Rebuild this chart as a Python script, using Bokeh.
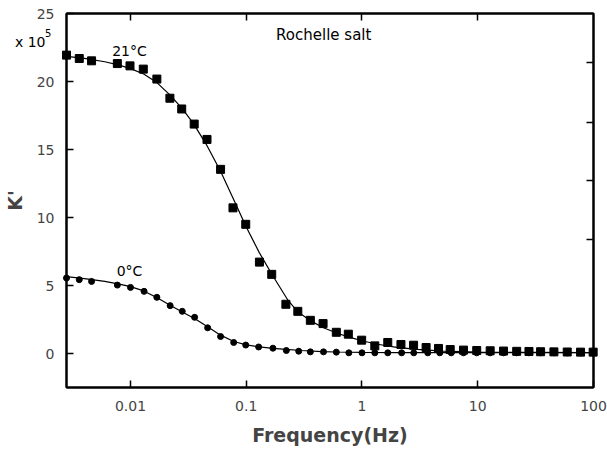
from bokeh.plotting import figure
from bokeh.models import Range1d, FixedTicker, LogAxis, LinearAxis, Label, CustomJSTickFormatter
from bokeh.core.properties import value
from bokeh.embed import file_html
from bokeh.resources import INLINE

# ---- data ----
sq_x = [0.0028, 0.00361, 0.00461, 0.0077, 0.0099, 0.0129, 0.0169, 0.0219, 0.0277, 0.0355,
        0.0458, 0.060, 0.0768, 0.099, 0.130, 0.166, 0.22, 0.279, 0.358, 0.461,
        0.60, 0.762, 0.993, 1.29, 1.67, 2.17, 2.79, 3.58, 4.58, 5.78,
        7.53, 9.80, 12.8, 16.7, 21.7, 27.7, 34.9, 45.5, 59.3, 77.3, 99.3]
sq_y = [21.94, 21.69, 21.52, 21.32, 21.15, 20.91, 20.18, 18.77, 17.98, 16.87,
        15.74, 13.54, 10.71, 9.50, 6.72, 5.82, 3.62, 3.10, 2.44, 2.20,
        1.56, 1.42, 0.98, 0.56, 0.81, 0.66, 0.61, 0.44, 0.37, 0.29,
        0.25, 0.22, 0.20, 0.18, 0.16, 0.15, 0.13, 0.12, 0.11, 0.10, 0.10]

ci_x = [0.0028, 0.00361, 0.00461, 0.0077, 0.010, 0.0131, 0.0169, 0.022, 0.028, 0.0358,
        0.0464, 0.060, 0.0779, 0.099, 0.128, 0.170, 0.222, 0.284, 0.358, 0.465,
        0.60, 0.77, 1.0, 1.29, 1.67, 2.2, 2.8, 3.7, 4.7, 5.9,
        7.53, 9.80, 12.8, 16.7, 21.7, 27.7, 34.9, 45.5, 59.3, 77.3, 99.3]
ci_y = [5.55, 5.43, 5.30, 5.03, 4.86, 4.57, 4.13, 3.52, 3.10, 2.66,
        1.89, 1.25, 0.81, 0.62, 0.48, 0.39, 0.22, 0.17, 0.12, 0.12,
        0.10, 0.05, 0.05, 0.05, 0.05, 0.05, 0.05, 0.05, 0.05, 0.05,
        0.05, 0.05, 0.05, 0.05, 0.05, 0.05, 0.05, 0.05, 0.05, 0.05, 0.05]

fit21_x = [0.0028, 0.004, 0.006, 0.008, 0.01, 0.013, 0.017, 0.022, 0.028, 0.035,
           0.045, 0.06, 0.08, 0.1, 0.13, 0.17, 0.23, 0.28, 0.36, 0.47,
           0.62, 0.8, 1.04, 1.36, 2.0, 3.0, 5.0, 10, 30, 100]
fit21_y = [21.85, 21.7, 21.45, 21.2, 20.95, 20.55, 19.9, 19.0, 18.0, 16.9,
           15.4, 13.4, 11.1, 9.3, 7.4, 5.7, 3.9, 3.05, 2.4, 1.88,
           1.47, 1.17, 0.9, 0.68, 0.45, 0.3, 0.18, 0.11, 0.08, 0.07]

fit0_x = [0.0028, 0.004, 0.006, 0.008, 0.01, 0.013, 0.017, 0.022, 0.028, 0.036,
          0.046, 0.06, 0.078, 0.1, 0.13, 0.17, 0.22, 0.3, 0.45, 0.6,
          1.0, 2.0, 5.0, 10, 30, 100]
fit0_y = [5.65, 5.5, 5.3, 5.1, 4.92, 4.6, 4.1, 3.55, 3.05, 2.55,
          1.98, 1.35, 0.88, 0.64, 0.49, 0.38, 0.3, 0.22, 0.14, 0.11,
          0.08, 0.06, 0.06, 0.06, 0.06, 0.06]

x_ticks = [0.01, 0.1, 1, 10, 100]
y_ticks = [0, 5, 10, 15, 20, 25]
top_ticks = [0.01, 0.1, 1, 10]
right_ticks = [8.4, 12.7, 17.0, 21.4]

FONT = "DejaVu Sans"
W, H = 607, 449

p = figure(width=W, height=H, x_axis_type="log",
           x_range=Range1d(0.0028, 100), y_range=Range1d(-2.5, 25),
           output_backend="svg", toolbar_location=None,
           min_border_left=65, min_border_right=14, min_border_top=13, min_border_bottom=62)
p.grid.visible = False
p.outline_line_color = "black"
p.outline_line_width = 2
p.background_fill_color = "white"
p.border_fill_color = "white"

xa = p.xaxis[0]
xa.ticker = FixedTicker(ticks=x_ticks)
xa.formatter = CustomJSTickFormatter(code="return tick.toString();")
xa.minor_tick_line_color = None
xa.major_tick_in = 7
xa.major_tick_out = 0
xa.major_tick_line_width = 1.5
xa.axis_line_width = 2
xa.major_label_text_font = FONT
xa.major_label_text_font_size = "14px"
xa.major_label_standoff = 13
xa.axis_label = "Frequency(Hz)"
xa.axis_label_text_font = FONT
xa.axis_label_text_font_style = "bold"
xa.axis_label_text_font_size = "19px"
xa.axis_label_standoff = 10

ya = p.yaxis[0]
ya.ticker = FixedTicker(ticks=y_ticks)
ya.minor_tick_line_color = None
ya.major_tick_in = 7
ya.major_tick_out = 0
ya.major_tick_line_width = 1.5
ya.axis_line_width = 2
ya.major_label_text_font = FONT
ya.major_label_text_font_size = "14px"
ya.major_label_standoff = 12
ya.axis_label = "K'"
ya.axis_label_text_font = FONT
ya.axis_label_text_font_style = "bold"
ya.axis_label_text_font_size = "19px"
ya.axis_label_standoff = 8

top = LogAxis(ticker=FixedTicker(ticks=top_ticks), formatter=CustomJSTickFormatter(code="return '';"))
top.minor_tick_line_color = None
top.major_tick_in = 7
top.major_tick_out = 0
top.major_tick_line_width = 1.5
top.axis_line_width = 2
top.major_label_text_font_size = "2px"
top.major_label_standoff = 0
p.add_layout(top, "above")

right = LinearAxis(ticker=FixedTicker(ticks=right_ticks), formatter=CustomJSTickFormatter(code="return '';"))
right.minor_tick_line_color = None
right.major_tick_in = 7
right.major_tick_out = 0
right.major_tick_line_width = 1.5
right.axis_line_width = 2
right.major_label_text_font_size = "2px"
right.major_label_standoff = 0
p.add_layout(right, "right")

p.line(fit21_x, fit21_y, line_color="black", line_width=1.2)
p.line(fit0_x, fit0_y, line_color="black", line_width=1.2)
# markers drawn at overlay level so the ones sitting on the frame edges are not cut in half
p.scatter(sq_x, sq_y, marker="square", size=8, fill_color="black", line_color="black", level="overlay")
p.scatter(ci_x, ci_y, marker="circle", size=6, fill_color="black", line_color="black", level="overlay")

def lab(x, y, t, size, align="center", base="middle"):
    p.add_layout(Label(x=x, y=y, text=t, text_font=FONT, text_font_size=size,
                       text_align=align, text_baseline=base, text_color="black"))

lab(0.0098, 22.25, "21°C", "14px")
lab(0.0098, 6.04, "0°C", "14px")
lab(0.181, 23.43, "Rochelle salt", "15px", align="left")

# "x 10^5" multiplier: anchored just inside the frame, shifted left by pixel offsets,
# drawn at overlay level (not clipped to the frame)
p.text(x=[0.003], y=[22.87], text=["x 10"], x_offset=-55, text_align="left",
       text_baseline="alphabetic", text_font=value(FONT), text_font_size=value("14px"),
       text_color="black", level="overlay")
p.text(x=[0.003], y=[23.57], text=["5"], x_offset=-25, text_align="left",
       text_baseline="alphabetic", text_font=value(FONT), text_font_size=value("10px"),
       text_color="black", level="overlay")

open("out.html", "w").write(file_html(p, INLINE))
